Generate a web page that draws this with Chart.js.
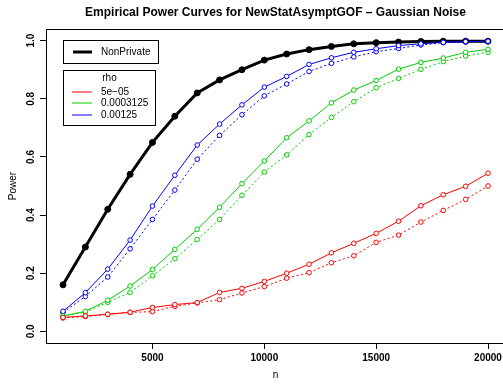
<!DOCTYPE html>
<html>
<head>
<meta charset="utf-8">
<script src="https://cdn.jsdelivr.net/npm/chart.js@4"></script>
<style>
  html, body { margin: 0; padding: 0; background: #fff; overflow: hidden; }
  #grafico { position: absolute; left: 0; top: 0; }
</style>
</head>
<body>
<canvas id="grafico" width="510" height="385"></canvas>
<script>
// datos
const tamanos = [1000, 2000, 3000, 4000, 5000, 6000, 7000, 8000, 9000, 10000,
                 11000, 12000, 13000, 14000, 15000, 16000, 17000, 18000, 19000, 20000];

const noPrivado = [0.160, 0.290, 0.420, 0.540, 0.650, 0.740, 0.820, 0.865, 0.900, 0.933,
                   0.954, 0.969, 0.980, 0.989, 0.993, 0.995, 0.997, 0.998, 0.998, 0.998];

const rhoEtiquetas = ['5e\u221205', '0.0003125', '0.00125'];
const rhoColores = ['#FF0000', '#00CD00', '#0000FF'];

// linea continua / linea punteada para cada rho
const rho1Continua = [0.048, 0.053, 0.059, 0.066, 0.082, 0.092, 0.099, 0.134, 0.148, 0.172,
                      0.200, 0.231, 0.270, 0.303, 0.337, 0.379, 0.432, 0.470, 0.499, 0.544];
const rho1Punteada = [0.046, 0.051, 0.058, 0.065, 0.068, 0.086, 0.098, 0.109, 0.132, 0.154,
                      0.183, 0.202, 0.236, 0.260, 0.306, 0.331, 0.376, 0.416, 0.454, 0.500];
const rho2Continua = [0.053, 0.069, 0.107, 0.156, 0.213, 0.282, 0.351, 0.427, 0.508, 0.586,
                      0.666, 0.724, 0.786, 0.830, 0.863, 0.902, 0.925, 0.940, 0.960, 0.970];
const rho2Punteada = [0.052, 0.066, 0.100, 0.134, 0.191, 0.250, 0.316, 0.385, 0.468, 0.548,
                      0.607, 0.677, 0.736, 0.790, 0.838, 0.870, 0.901, 0.928, 0.947, 0.960];
const rho3Continua = [0.069, 0.133, 0.214, 0.314, 0.431, 0.537, 0.641, 0.713, 0.779, 0.840,
                      0.877, 0.918, 0.941, 0.960, 0.972, 0.983, 0.989, 0.994, 0.997, 0.998];
const rho3Punteada = [0.065, 0.120, 0.187, 0.284, 0.385, 0.486, 0.592, 0.674, 0.745, 0.810,
                      0.851, 0.894, 0.922, 0.944, 0.962, 0.973, 0.985, 0.993, 0.995, 0.997];

const ticksX = [5000, 10000, 15000, 20000];
const ticksY = [0, 0.2, 0.4, 0.6, 0.8, 1.0];

const titulo = 'Empirical Power Curves for NewStatAsymptGOF \u2013 Gaussian Noise';
const fuente = '"Liberation Sans", Arial, Helvetica, sans-serif';

function puntos(valores) {
    return tamanos.map((n, i) => ({ x: n, y: valores[i] }));
}

function serieRho(valores, idx, punteada) {
    return {
        label: rhoEtiquetas[idx] + (punteada ? ' (b)' : ''),
        data: puntos(valores),
        borderColor: rhoColores[idx],
        borderWidth: 1,
        borderDash: punteada ? [2, 2.5] : [],
        pointRadius: 2.3,
        pointBorderWidth: 1,
        pointBorderColor: rhoColores[idx],
        pointBackgroundColor: '#ffffff',
        tension: 0,
        order: 1
    };
}

// caja, titulo y leyendas al estilo R
const estiloR = {
    id: 'estiloR',
    afterDraw(chart) {
        const ctx = chart.ctx;
        const area = chart.chartArea;
        ctx.save();
        ctx.setLineDash([]);
        ctx.strokeStyle = '#000';
        ctx.lineWidth = 1;
        ctx.strokeRect(Math.round(area.left) + 0.5, Math.round(area.top) + 0.5,
                       Math.round(area.right - area.left), Math.round(area.bottom - area.top));

        ctx.fillStyle = '#000';
        ctx.font = 'bold 12px ' + fuente;
        ctx.textAlign = 'center';
        ctx.textBaseline = 'middle';
        ctx.fillText(titulo, (area.left + area.right) / 2, 13);

        // leyenda NonPrivate
        ctx.strokeRect(63.5, 40.5, 95, 23);
        ctx.lineWidth = 3;
        ctx.beginPath();
        ctx.moveTo(73, 52);
        ctx.lineTo(92, 52);
        ctx.stroke();
        ctx.font = '10px ' + fuente;
        ctx.textAlign = 'left';
        ctx.fillText('NonPrivate', 101, 52.5);

        // leyenda rho
        ctx.lineWidth = 1;
        ctx.strokeRect(63.5, 70.5, 92, 55);
        ctx.textAlign = 'center';
        ctx.fillText('rho', 109.5, 78);
        ctx.textAlign = 'left';
        rhoEtiquetas.forEach((et, i) => {
            const y = Math.floor(92 + i * 11.5);
            ctx.strokeStyle = rhoColores[i];
            ctx.beginPath();
            ctx.moveTo(72, y);
            ctx.lineTo(92, y);
            ctx.stroke();
            ctx.fillStyle = '#000';
            ctx.fillText(et, 101, y);
        });
        ctx.restore();
    }
};

document.addEventListener('DOMContentLoaded', function () {
    const ctx = document.getElementById('grafico').getContext('2d');
    new Chart(ctx, {
        type: 'line',
        data: {
            datasets: [
                {
                    label: 'NonPrivate',
                    data: puntos(noPrivado),
                    borderColor: '#000',
                    borderWidth: 3,
                    pointRadius: 3,
                    pointBorderWidth: 1,
                    pointBorderColor: '#000',
                    pointBackgroundColor: '#000',
                    tension: 0,
                    order: 10
                },
                serieRho(rho1Continua, 0, false),
                serieRho(rho1Punteada, 0, true),
                serieRho(rho2Continua, 1, false),
                serieRho(rho2Punteada, 1, true),
                serieRho(rho3Continua, 2, false),
                serieRho(rho3Punteada, 2, true)
            ]
        },
        options: {
            responsive: false,
            animation: false,
            devicePixelRatio: 1,
            layout: { padding: { top: 29, right: 4, left: 0, bottom: 0 } },
            plugins: {
                legend: { display: false },
                title: { display: false },
                tooltip: { enabled: false }
            },
            scales: {
                x: {
                    type: 'linear',
                    min: 240,
                    max: 20760,
                    afterBuildTicks: s => { s.ticks = ticksX.map(v => ({ value: v })); },
                    afterFit: s => { s.height = 42; s.paddingLeft = 0; s.paddingRight = 0; },
                    border: { display: false },
                    grid: { drawOnChartArea: false, drawTicks: true, tickLength: 6, color: '#000', lineWidth: 1 },
                    ticks: {
                        color: '#000',
                        font: { family: fuente, size: 10, weight: 'bold' },
                        padding: 3,
                        maxRotation: 0,
                        callback: v => String(v)
                    },
                    title: {
                        display: true,
                        text: 'n',
                        color: '#000',
                        font: { family: fuente, size: 10 },
                        padding: { top: 0, bottom: 4 }
                    }
                },
                y: {
                    min: -0.04,
                    max: 1.04,
                    afterBuildTicks: s => { s.ticks = ticksY.map(v => ({ value: v })); },
                    afterFit: s => { s.width = 46; s.paddingTop = 0; s.paddingBottom = 0; },
                    border: { display: false },
                    grid: { drawOnChartArea: false, drawTicks: true, tickLength: 6, color: '#000', lineWidth: 1 },
                    ticks: {
                        color: '#000',
                        font: { family: fuente, size: 10, weight: 'bold' },
                        padding: 2,
                        minRotation: 90,
                        maxRotation: 90,
                        crossAlign: 'center',
                        callback: v => v.toFixed(1)
                    },
                    title: {
                        display: true,
                        text: 'Power',
                        color: '#000',
                        font: { family: fuente, size: 10 },
                        padding: { top: 7, bottom: 0 }
                    }
                }
            }
        },
        plugins: [estiloR]
    });
});
</script>
</body>
</html>
